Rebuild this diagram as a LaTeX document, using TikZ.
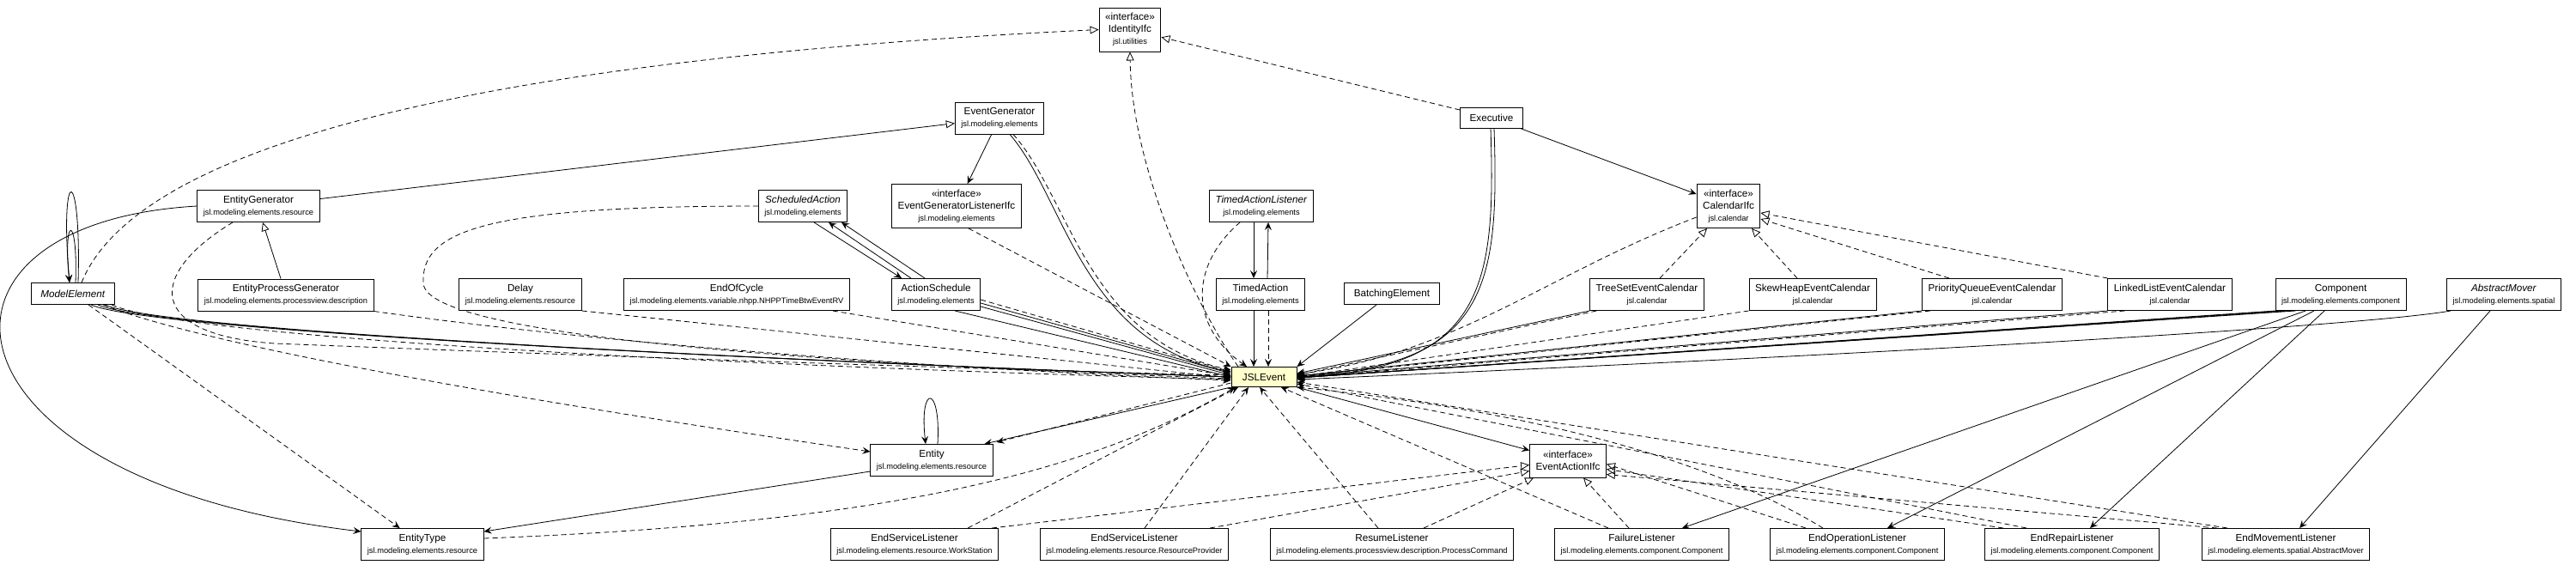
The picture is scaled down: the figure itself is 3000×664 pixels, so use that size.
\documentclass[tikz,border=0pt]{standalone}
\usepackage{fontspec}
\setmainfont{Liberation Sans}
\usetikzlibrary{arrows.meta,backgrounds}
\definecolor{focus}{HTML}{FFFFCC}
\newcommand{\pkgname}[1]{{\fontsize{9.3}{11}\selectfont #1}}

\begin{document}
\begin{tikzpicture}[x=1pt,y=-1pt,
    every node/.style={font=\fontsize{11.7}{14}\selectfont},
    cls/.style={draw,line width=1pt,fill=white,align=center,inner xsep=7pt,inner ysep=2pt,minimum height=37pt},
    cls3/.style={cls,minimum height=51pt},
    single/.style={cls,minimum height=25pt,inner xsep=11pt},
    assoc/.style={line width=0.8pt,-{Stealth[length=9pt,width=8pt,inset=3.5pt]}},
    dep/.style={assoc,dash pattern=on 6pt off 4pt},
    gen/.style={line width=0.8pt,-{Triangle[open,length=10pt,width=9pt]}},
    real/.style={gen,dash pattern=on 6pt off 4pt}]
    \useasboundingbox (0,0) rectangle (3000,664);
    % top rows
    \node[cls3] (idifc) at (1316,34.5) {«interface»\\IdentityIfc\\\pkgname{jsl.utilities}};
    \node[cls] (evgen) at (1164,137.5) {EventGenerator\\\pkgname{jsl.modeling.elements}};
    \node[single,minimum height=24pt] (exec) at (1737,137) {Executive};
    \node[cls] (entgen) at (301,240) {EntityGenerator\\\pkgname{jsl.modeling.elements.resource}};
    \node[cls] (sched) at (935,240) {\textit{ScheduledAction}\\\pkgname{jsl.modeling.elements}};
    \node[cls3] (egl) at (1114,240) {«interface»\\EventGeneratorListenerIfc\\\pkgname{jsl.modeling.elements}};
    \node[cls] (talist) at (1469,240) {\textit{TimedActionListener}\\\pkgname{jsl.modeling.elements}};
    \node[cls3] (califc) at (2013,240) {«interface»\\CalendarIfc\\\pkgname{jsl.calendar}};
    % middle row
    \node[single] (model) at (85,342) {\textit{ModelElement}};
    \node[cls] (epgen) at (333,343.5) {EntityProcessGenerator\\\pkgname{jsl.modeling.elements.processview.description}};
    \node[cls] (delay) at (606,343) {Delay\\\pkgname{jsl.modeling.elements.resource}};
    \node[cls] (eoc) at (858,343) {EndOfCycle\\\pkgname{jsl.modeling.elements.variable.nhpp.NHPPTimeBtwEventRV}};
    \node[cls] (asched) at (1090,343) {ActionSchedule\\\pkgname{jsl.modeling.elements}};
    \node[cls] (taction) at (1468,343) {TimedAction\\\pkgname{jsl.modeling.elements}};
    \node[single] (batch) at (1621,342) {BatchingElement};
    \node[cls] (tree) at (1918,343) {TreeSetEventCalendar\\\pkgname{jsl.calendar}};
    \node[cls] (skew) at (2111,343) {SkewHeapEventCalendar\\\pkgname{jsl.calendar}};
    \node[cls] (pq) at (2320,343) {PriorityQueueEventCalendar\\\pkgname{jsl.calendar}};
    \node[cls] (ll) at (2527,343) {LinkedListEventCalendar\\\pkgname{jsl.calendar}};
    \node[cls] (comp) at (2726,343) {Component\\\pkgname{jsl.modeling.elements.component}};
    \node[cls] (mover) at (2916,343) {\textit{AbstractMover}\\\pkgname{jsl.modeling.elements.spatial}};
    \node[single,fill=focus,minimum height=23pt,minimum width=76pt] (jsl) at (1472,439) {JSLEvent};
    % lower rows
    \node[cls] (entity) at (1085,536) {Entity\\\pkgname{jsl.modeling.elements.resource}};
    \node[cls,minimum height=39pt] (eaifc) at (1826,536.5) {«interface»\\EventActionIfc};
    \node[cls] (etype) at (492,634) {EntityType\\\pkgname{jsl.modeling.elements.resource}};
    \node[cls] (eslws) at (1065,634) {EndServiceListener\\\pkgname{jsl.modeling.elements.resource.WorkStation}};
    \node[cls] (eslrp) at (1321,634) {EndServiceListener\\\pkgname{jsl.modeling.elements.resource.ResourceProvider}};
    \node[cls] (resume) at (1621,634) {ResumeListener\\\pkgname{jsl.modeling.elements.processview.description.ProcessCommand}};
    \node[cls] (fail) at (1912,634) {FailureListener\\\pkgname{jsl.modeling.elements.component.Component}};
    \node[cls] (endop) at (2163,634) {EndOperationListener\\\pkgname{jsl.modeling.elements.component.Component}};
    \node[cls] (endrep) at (2413,634) {EndRepairListener\\\pkgname{jsl.modeling.elements.component.Component}};
    \node[cls] (endmov) at (2662,634) {EndMovementListener\\\pkgname{jsl.modeling.elements.spatial.AbstractMover}};

    \begin{scope}[on background layer]
    % generalisation and realisation
    \draw[real] ([xshift=10pt]model.north) .. controls (160,170) and (550,70) .. (idifc.west);
    \draw[real] (exec) -- (idifc);
    \draw[real] ([xshift=-30pt]jsl.north) .. controls (1395,360) and (1318,200) .. (idifc.south);
    \draw[gen] (entgen) -- (evgen);
    \draw[gen] ([xshift=-6pt]epgen.north) -- ([xshift=5pt]entgen.south);
    \draw[real] ([xshift=15pt]tree.north) -- ([xshift=-25pt]califc.south);
    \draw[real] ([xshift=-18pt]skew.north) -- ([xshift=27pt]califc.south);
    \draw[real] ([xshift=-50pt]pq.north) -- ([yshift=-15pt]califc.east);
    \draw[real] (ll.north west) -- ([yshift=-8pt]califc.east);
    \draw[real] ([xshift=-8pt]eslws.north east) -- ([yshift=-5pt]eaifc.west);
    \draw[real] ([xshift=-22pt]eslrp.north east) -- ([yshift=-12pt]eaifc.west);
    \draw[real] ([xshift=37pt]resume.north) -- ([xshift=5pt]eaifc.south west);
    \draw[real] ([xshift=-15pt]fail.north) -- ([xshift=18pt]eaifc.south);
    \draw[real] ([xshift=-60pt]endop.north) -- ([yshift=-4pt]eaifc.east);
    \draw[real] ([xshift=-80pt]endrep.north) -- ([yshift=-10pt]eaifc.east);
    \draw[real] ([xshift=-80pt]endmov.north) -- ([yshift=-16pt]eaifc.east);

    % ModelElement
    \draw[assoc] ([xshift=6pt]model.north) .. controls +(4,-140) and +(-12,-140) .. ([xshift=-4pt]model.north);
    \draw[assoc] ([xshift=3pt]model.north) .. controls +(3,-80) and +(-8,-80) .. ([xshift=-4pt]model.north);
    \foreach \s in {-28,-20,-12}
      \draw[assoc] ([xshift=\s pt]model.south east) .. controls ({200+\s},385) and (900,420) .. (jsl.west);
    \draw[dep] ([xshift=-4pt]model.south east) .. controls (220,395) and (900,428) .. ([yshift=-3pt]jsl.west);
    \draw[dep] (model) -- (etype);
    \draw[dep] ([xshift=-14pt]model.south east) .. controls (260,410) and (700,480) .. ([yshift=10pt]entity.west);

    % EntityGenerator, ScheduledAction and the left row
    \draw[assoc] (entgen.west) .. controls (-120,260) and (-80,560) .. ([yshift=15pt]etype.west);
    \draw[dep] ([xshift=-30pt]entgen.south) .. controls (170,320) and (170,390) .. (320,400)
      .. controls (700,415) and (1200,432) .. ([yshift=2pt]jsl.west);
    \draw[dep] (sched.west) .. controls (560,240) and (490,270) .. (493,330)
      .. controls (497,395) and (1000,425) .. ([yshift=-2pt]jsl.west);
    \draw[assoc] ([xshift=13pt]sched.south) -- ([xshift=-40pt]asched.north);
    \draw[assoc] ([xshift=-29pt]asched.north) -- ([xshift=30pt]sched.south);
    \draw[assoc] ([xshift=-13pt]asched.north) -- ([xshift=45pt]sched.south);
    \draw[dep] ([yshift=-6pt]asched.east) -- ([yshift=6pt]jsl.west);
    \draw[assoc] ([yshift=-10pt]asched.east) -- ([yshift=4pt]jsl.west);
    \draw[assoc] ([yshift=-14pt]asched.east) -- ([yshift=2pt]jsl.west);
    \draw[assoc] ([xshift=-30pt]asched.south east) -- (jsl.west);
    \draw[dep] (delay.south east) -- ([yshift=-1pt]jsl.west);
    \draw[dep] ([xshift=-20pt]eoc.south east) -- ([yshift=1pt]jsl.west);
    \draw[dep] (epgen.south east) .. controls (700,400) and (1100,430) .. ([yshift=-4pt]jsl.west);

    % EventGenerator, TimedAction
    \draw[assoc] (evgen) -- (egl);
    \draw[assoc] ([xshift=12pt]evgen.south) .. controls (1240,230) and (1260,400) .. ([yshift=6pt]jsl.west);
    \draw[dep] ([xshift=16pt]evgen.south) .. controls (1246,230) and (1266,395) .. ([yshift=8pt]jsl.west);
    \draw[dep] ([xshift=14pt]egl.south) -- (jsl.north west);
    \draw[dep] ([xshift=-25pt]talist.south) .. controls (1385,310) and (1385,380) .. ([xshift=-20pt]jsl.north);
    \draw[assoc] ([xshift=-9pt]talist.south) -- ([xshift=-8pt]taction.north);
    \draw[assoc] ([xshift=8pt]taction.north) -- ([xshift=8pt]talist.south);
    \draw[assoc] ([xshift=-8pt]taction.south) -- ([xshift=-12pt]jsl.north);
    \draw[dep] ([xshift=9pt]taction.south) -- ([xshift=5pt]jsl.north);
    \draw[assoc] ([xshift=-18pt]batch.south) -- (jsl.north east);

    % Executive and calendars
    \draw[assoc] (exec) -- (califc);
    \draw[assoc] ([xshift=-1pt]exec.south) .. controls (1742,330) and (1730,430) .. (jsl.east);
    \draw[assoc] ([xshift=3pt]exec.south) .. controls (1746,330) and (1734,428) .. ([yshift=2pt]jsl.east);
    \draw[dep] ([yshift=-13pt]califc.west) .. controls (1800,320) and (1700,410) .. ([yshift=3pt]jsl.east);
    \draw[assoc] (tree.south west) -- ([yshift=4pt]jsl.east);
    \draw[dep] ([xshift=8pt]tree.south west) -- ([yshift=2pt]jsl.east);
    \draw[dep] (skew.south west) -- (jsl.east);
    \draw[assoc] (pq.south west) -- ([yshift=1pt]jsl.east);
    \draw[dep] ([xshift=10pt]pq.south west) -- (jsl.east);
    \draw[assoc] (ll.south west) -- (jsl.east);
    \draw[dep] ([xshift=20pt]ll.south west) -- ([yshift=-1pt]jsl.east);
    \foreach \s in {0,8,16,24}
      \draw[assoc] ([xshift=\s pt]comp.south west) -- ([yshift=-1pt]jsl.east);
    \draw[assoc] ([xshift=5pt]mover.south west) .. controls (2750,380) and (2200,412) .. ([yshift=-3pt]jsl.east);
    \draw[assoc] ([xshift=-41pt]comp.south) -- ([xshift=47pt]fail.north);
    \draw[assoc] ([xshift=-31pt]comp.south) -- ([xshift=35pt]endop.north);
    \draw[assoc] ([xshift=-19pt]comp.south) -- ([xshift=21pt]endrep.north);
    \draw[assoc] ([xshift=-16pt]mover.south) -- ([xshift=16pt]endmov.north);

    % JSLEvent downwards
    \draw[assoc] (jsl.south east) -- ([yshift=12pt]eaifc.west);
    \draw[assoc] (jsl.south west) -- ([xshift=-10pt]entity.north east);
    \draw[dep] ([yshift=5pt]jsl.south west) -- ([xshift=4pt,yshift=2pt]entity.north east);
    \draw[assoc] ([xshift=7pt]entity.north) .. controls +(4,-70) and +(-8,-70) .. ([xshift=-7pt]entity.north);
    \draw[assoc] ([yshift=-13pt]entity.west) -- ([yshift=15pt]etype.east);
    \draw[dep] ([yshift=7pt]etype.east) .. controls (1000,610) and (1250,560) .. ([xshift=5pt]jsl.south west);
    \draw[dep] ([xshift=-36pt]eslws.north east) -- ([xshift=-30pt]jsl.south);
    \draw[dep] ([xshift=12pt]eslrp.north) -- ([xshift=-18pt]jsl.south);
    \draw[dep] ([xshift=-16pt]resume.north) -- ([xshift=-5pt]jsl.south);
    \draw[dep] ([xshift=-39pt]fail.north) -- ([xshift=20pt]jsl.south);
    \draw[dep] ([xshift=-40pt]endop.north) .. controls (2000,540) and (1800,480) .. (jsl.south east);
    \draw[dep] ([xshift=-53pt]endrep.north) -- ([yshift=4pt]jsl.south east);
    \draw[dep] ([xshift=-68pt]endmov.north) -- ([yshift=-6pt]jsl.east);
    \end{scope}
\end{tikzpicture}
\end{document}
